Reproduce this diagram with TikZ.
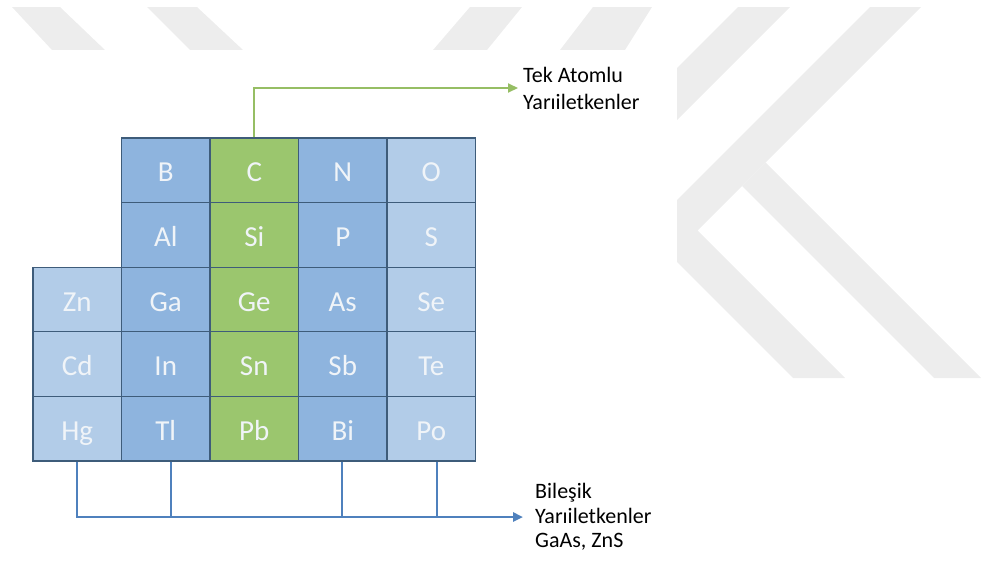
\documentclass[tikz,border=0pt]{standalone}
\usepackage{fontspec}
\setmainfont{Carlito}
\usetikzlibrary{arrows.meta}

\definecolor{wmgray}{RGB}{237,237,237}
\definecolor{paleblue}{RGB}{178,204,232}
\definecolor{midblue}{RGB}{142,180,222}
\definecolor{cellgreen}{RGB}{155,198,110}
\definecolor{gridline}{RGB}{62,92,122}
\definecolor{linkgreen}{RGB}{150,190,100}
\definecolor{linkblue}{RGB}{79,129,189}
\definecolor{symbolwhite}{RGB}{240,244,248}

\begin{document}
\begin{tikzpicture}[x=1pt,y=-1pt,
  cell/.style={draw=gridline, line width=1.3pt, minimum width=88.5pt,
    minimum height=64.6pt, inner sep=0pt, text=symbolwhite,
    text height=25pt, text depth=2pt,
    font=\fontsize{29}{30}\selectfont},
  caption/.style={anchor=west, align=left, inner sep=0pt, text=black,
    font=\fontsize{22}{27}\selectfont},
  greenlink/.style={draw=linkgreen, line width=2pt},
  bluelink/.style={draw=linkblue, line width=2.4pt},
  tip/.style={-{Triangle[length=10pt,width=9pt]}}
]
\useasboundingbox (0,0) rectangle (981,560);

% faint background emblem
\fill[wmgray] (12,7) -- (60,7) -- (105,50) -- (52,50) -- cycle;
\fill[wmgray] (147,7) -- (197,7) -- (243,50) -- (190,50) -- cycle;
\fill[wmgray] (470,7) -- (522,7) -- (487,50) -- (433,50) -- cycle;
\fill[wmgray] (593,7) -- (652,7) -- (625,50) -- (560,50) -- cycle;
\fill[wmgray] (738,7) -- (790,7) -- (677,120) -- (677,68) -- cycle;
\fill[wmgray] (870,7) -- (921,7) -- (697.5,230.5) -- (845,378)
  -- (793,378) -- (646,231) -- cycle;
\fill[wmgray] (742,186) -- (765.5,162.5) -- (981,378) -- (934,378) -- cycle;

% white sheet behind the table
\fill[white] (0,50) rectangle (677,560);

% element cells
\foreach \name/\x/\y/\fc in {
  B/165.75/170.3/midblue, C/254.25/170.3/cellgreen, N/342.75/170.3/midblue, O/431.25/170.3/paleblue,
  Al/165.75/234.9/midblue, Si/254.25/234.9/cellgreen, P/342.75/234.9/midblue, S/431.25/234.9/paleblue,
  Zn/77.25/299.5/paleblue, Ga/165.75/299.5/midblue, Ge/254.25/299.5/cellgreen, As/342.75/299.5/midblue, Se/431.25/299.5/paleblue,
  Cd/77.25/364.1/paleblue, In/165.75/364.1/midblue, Sn/254.25/364.1/cellgreen, Sb/342.75/364.1/midblue, Te/431.25/364.1/paleblue,
  Hg/77.25/428.7/paleblue, Tl/165.75/428.7/midblue, Pb/254.25/428.7/cellgreen, Bi/342.75/428.7/midblue, Po/431.25/428.7/paleblue}
  \node[cell, fill=\fc] (\name) at (\x,\y) {\name};

% captions
\node[caption] (tek) at (523,88) {Tek Atomlu\\Yarıiletkenler};
\node[caption, font=\fontsize{22}{24.5}\selectfont] (bil) at (535,517)
  {Bileşik\\Yarıiletkenler\\GaAs, ZnS};

% elemental semiconductors
\draw[greenlink, tip] (C.north) |- ([xshift=-5pt]tek.west);

% compound semiconductors
\draw[bluelink, tip] (Hg.south) |- ([xshift=-12pt]bil.west);
\draw[bluelink] ([xshift=5pt]Tl.south) -- ([xshift=5pt]Tl.south |- bil.west);
\draw[bluelink] ([xshift=-1pt]Bi.south) -- ([xshift=-1pt]Bi.south |- bil.west);
\draw[bluelink] ([xshift=6pt]Po.south) -- ([xshift=6pt]Po.south |- bil.west);
\end{tikzpicture}
\end{document}
